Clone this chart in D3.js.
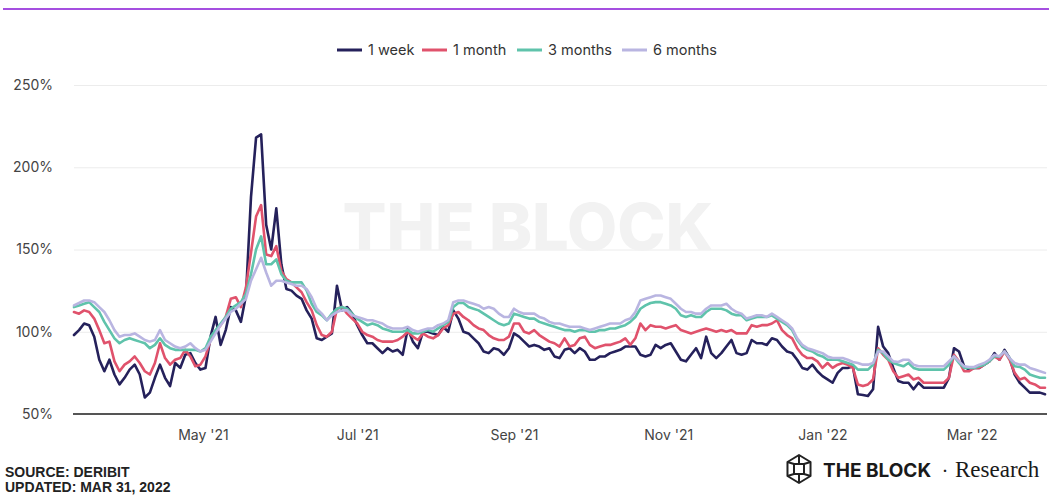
<!DOCTYPE html>
<html>
<head>
<meta charset="utf-8">
<script src="https://cdn.jsdelivr.net/npm/d3@7"></script>
<style>
  html, body { margin: 0; padding: 0; background: #ffffff; }
  svg { display: block; }
</style>
</head>
<body>
<svg id="chart" width="1049" height="495"></svg>
<script>
// Deribit BTC implied volatility by tenor, sampled every two days
const startDate = new Date(2021, 2, 11);
const endDate = new Date(2022, 2, 30);
const stepDays = 2;

const seriesNames = ["1 week", "1 month", "3 months", "6 months"];
const seriesColors = ["#25215b", "#e0526c", "#5fc3ab", "#b9b5e1"];

const week1 = [98,101,105,104,97,83,76,83,74,68,72,77,80,74,60,63,72,80,72,67,81,78,86,87,81,77,78,97,109,92,
  101,115,113,106,122,182,218,220,165,150,175,141,126,125,122,120,113,108,96,95,97,99,128,113,115,111,104,98,93,93,
  90,87,90,88,89,86,102,94,90,100,100,99,98,103,100,113,108,100,99,96,93,88,87,90,89,86,90,99,97,94,
  91,92,91,89,90,85,84,89,90,87,90,88,83,83,85,85,87,88,89,91,91,91,86,85,86,92,90,92,93,88,
  83,82,86,90,84,97,87,84,87,91,95,87,86,87,95,93,93,92,96,95,91,88,87,83,78,77,80,76,73,71,
  69,75,78,78,79,62,61.6,61,65,103,91,87,78,70,69,69,65,69,66,66,66,66,66,72,90,88,79,77,78,78,
  80,82,87,83,89,84,74,69,66,63,63,63,62];

const month1 = [112,111,113,112,108,101,93,94,82,76,80,82,85,81,76,74,81,93,84,80,83,84,89,85,79,80,85,95,100,104,
  109,120,121,115,127,148,170,177,147,146,152,137,132,130,127,124,118,113,104,98,97,100,114,115,111,108,105,100,98,97,
  95,94,94,94,95,97,100,97,95,99,97,96,98,102,104,111,112,109,107,104,102,101,98,96,95,95,97,105,105,100,
  99,101,98,96,94,93,91,96,91,92,96,97,92,90,91,92,92,93,94,96,92,96,105,101,104,103,103,102,103,104,
  101,100,99,100,101,102,101,100,101,100,101,99,99,99,104,103,104,104,105,107,101,98,96,90,86,84,84,82,78,81,
  78,80,81,80,78,68,67,68,71,90,86,83,76,72,73,74,71,72,69,69,69,69,69,72,86,82,76,76,78,78,
  80,82,85,83,88,83,75,71,72,69,68,66,66];

const month3 = [115,116,117,118,115,112,106,101,96,93,95,96,95,94,93,90,92,96,92,90,89,89,89,89,89,88,90,97,101,105,
  109,114,116,118,123,135,150,158,141,141,144,135,131,130,130,130,125,117,112,110,107,111,114,115,114,111,108,106,104,105,
  104,102,101,100,100,100,101,99,99,100,101,100,102,104,106,115,117.5,117.5,115,114,113,111,109,107,105,104,105,111,110,109,
  108,108,106,105,104,103,102,101,101,100,101,101,100,100,101,101,102,102,103,104,106,109,114,116,117.5,118,118,117,116,114,
  110,109,110,109,109,112,114,114,114,113,111,110,110,107,108,109,109,109,110,108,106,104,101,95,91,89,88,86,85,83,
  83,83,82,81,80,77,77,77,80,89,87,83,81,80,79,81,78,77,77,77,77,77,77,80,85,81,78,78,78,79,
  80,82,85,85,88,84,79,78.6,77,74,73,72,72];

const month6 = [116,117.5,119,119,118,115,112,107,101,97,98,98,99,97,95,94,95,101,95,93,91,90,91,93,90,88,89,94,99,104,
  108,112,114,117,120,131,138,145,136,128,131,131,130,129,128,128,126,121,114,111,107,110,112,113,113,110,109,108,107,107,
  106,105,103,102,102,102,103,101,100,101,102,102,104,105,107,118,119,119,118,117,116,114,115,114,111,109,109,114,112,111,
  111,111,109,108,106,105,105,104,103,103,103,102,101,102,103,104,105,105,105,107,108,112,119,120,121,122,122,121,120,117,
  114,112,112,111,111,114,116,116,116,117,114,112,111,108,109,110,110,109,111,109,107,105,102,96,92,90,89,88,87,85,
  84,84,84,83,81.6,81,80,80,81,88,88,85,82,81.6,83,83,80,79,79,79,79,79,79,82,85,82,79,78.6,78.6,80,
  81,83,86,85,88,84,81,80,80,78,77,76,75];

const seriesValues = [week1, month1, month3, month6];

const yTicks = [50, 100, 150, 200, 250];
const xTickDates = [new Date(2021, 4, 1), new Date(2021, 6, 1), new Date(2021, 8, 1),
                    new Date(2021, 10, 1), new Date(2022, 0, 1), new Date(2022, 2, 1)];
const xTickLabels = ["May '21", "Jul '21", "Sep '21", "Nov '21", "Jan '22", "Mar '22"];

const svg = d3.select("#chart");
const W = 1049, H = 495;
const plot = { left: 74, right: 1045, top: 85, bottom: 414 };

const x = d3.scaleTime().domain([startDate, endDate]).range([plot.left, plot.right]);
const y = d3.scaleLinear().domain([50, 250]).range([plot.bottom, plot.top]);

const fontUI = "Inter, 'Open Sans', sans-serif";

// top accent rule
svg.append("rect").attr("x", 3).attr("y", 8).attr("width", W - 3).attr("height", 2).attr("fill", "#a54fe0");

// gridlines and y labels
const yAxis = d3.axisLeft(y).tickValues(yTicks).tickFormat(d => d + "%")
  .tickSize(-(plot.right + 2 - plot.left)).tickPadding(21);
const gy = svg.append("g").attr("transform", `translate(${plot.left},0)`).call(yAxis);
gy.select(".domain").remove();
gy.selectAll(".tick line").attr("stroke", "#ececec").attr("stroke-width", 1)
  .filter(d => d === 50).remove();
gy.selectAll(".tick text").attr("fill", "#444").style("font-family", fontUI).style("font-size", "14px");

// watermark
svg.append("text").attr("x", 528).attr("y", 250).attr("text-anchor", "middle")
  .style("font-family", "Inter, 'Liberation Sans', sans-serif").style("font-weight", 800)
  .style("font-size", "65px").attr("fill", "#f2f2f2").text("THE BLOCK");

// x axis
const xAxis = d3.axisBottom(x).tickValues(xTickDates)
  .tickFormat((d, i) => xTickLabels[i]).tickSize(0).tickPadding(16);
const gx = svg.append("g").attr("transform", `translate(0,${plot.bottom})`).call(xAxis);
gx.select(".domain").remove();
gx.selectAll(".tick text").attr("fill", "#444").style("font-family", fontUI).style("font-size", "14px");
svg.append("line").attr("x1", plot.left - 1).attr("x2", plot.right + 2)
  .attr("y1", y(50)).attr("y2", y(50)).attr("stroke", "#555").attr("stroke-width", 2);

// series lines
const line = d3.line()
  .x((d, i) => x(d3.timeDay.offset(startDate, i * stepDays)))
  .y(d => y(d));

seriesValues.forEach((vals, s) => {
  svg.append("path").datum(vals)
    .attr("fill", "none").attr("stroke", seriesColors[s])
    .attr("stroke-width", 2.6).attr("stroke-linejoin", "round").attr("stroke-linecap", "round")
    .attr("d", line);
});

// legend
const legendPos = [337, 422, 517, 622];
const legend = svg.append("g");
seriesNames.forEach((name, i) => {
  const g = legend.append("g").attr("transform", `translate(${legendPos[i]},50)`);
  g.append("line").attr("x1", 0).attr("x2", 25).attr("y1", 0).attr("y2", 0)
    .attr("stroke", seriesColors[i]).attr("stroke-width", 3);
  g.append("text").attr("x", 31).attr("y", 5).attr("fill", "#333")
    .style("font-family", fontUI).style("font-size", "14.5px").text(name);
});

// footer
const footer = svg.append("g").style("font-family", "'Liberation Sans', Arial, sans-serif")
  .style("font-weight", 700).style("font-size", "14px").attr("fill", "#222");
footer.append("text").attr("x", 5).attr("y", 477).text("SOURCE: DERIBIT");
footer.append("text").attr("x", 5).attr("y", 492).text("UPDATED: MAR 31, 2022");

// brand mark
const logo = svg.append("g").attr("transform", "translate(799,469)")
  .attr("fill", "none").attr("stroke", "#222").attr("stroke-width", 2).attr("stroke-linejoin", "round");
const R = 14;
const hex = d3.range(6).map(k => {
  const a = Math.PI / 2 + k * Math.PI / 3;
  return [R * Math.cos(a) * 0.95, -R * Math.sin(a)];
});
logo.append("polygon").attr("points", hex.map(p => p.join(",")).join(" "));
logo.append("rect").attr("x", -5).attr("y", -5).attr("width", 10).attr("height", 10);
[[hex[1], [-5, -5]], [hex[2], [-5, 5]], [hex[4], [5, 5]], [hex[5], [5, -5]],
 [hex[0], [0, -5]], [hex[3], [0, 5]]].forEach(([a, b]) => {
  logo.append("line").attr("x1", a[0]).attr("y1", a[1]).attr("x2", b[0]).attr("y2", b[1]);
});
svg.append("text").attr("x", 823).attr("y", 477)
  .style("font-family", "Inter, 'Liberation Sans', sans-serif").style("font-weight", 700)
  .style("font-size", "19px").attr("fill", "#1a1a1a").text("THE BLOCK");
svg.append("text").attr("x", 942).attr("y", 477)
  .style("font-family", "'DejaVu Serif', serif").style("font-size", "19px").attr("fill", "#1a1a1a").text("·");
svg.append("text").attr("x", 955).attr("y", 477)
  .style("font-family", "'Liberation Serif', 'DejaVu Serif', serif").style("font-size", "23px")
  .attr("fill", "#1a1a1a").text("Research");
</script>
</body>
</html>
